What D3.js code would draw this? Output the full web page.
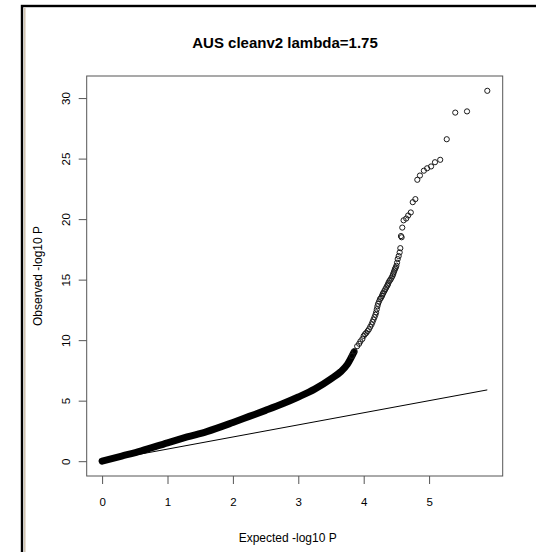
<!DOCTYPE html>
<html>

<head>
    <meta charset="utf-8">
</head>
<style>
    body { margin: 0; background: #fff; }
    svg text { font-family: "Liberation Sans", Arial, sans-serif; fill: #000; }
</style>

<body>
    <svg width="536" height="552"></svg>
    <script src="https://d3js.org/d3.v7.min.js"></script>
    <script>
        // dense part of the QQ curve (expected, observed -log10 P)
        var bandX = [0, 0.3, 0.6, 1.0, 1.3, 1.6, 2.0, 2.25, 2.5, 2.75, 3.0, 3.25, 3.5, 3.65, 3.75, 3.85];
        var bandY = [0, 0.42, 0.85, 1.52, 2.0, 2.45, 3.2, 3.7, 4.2, 4.72, 5.3, 5.95, 6.8, 7.4, 8.0, 9.0];

        // sparse upper tail, drawn as separate points
        var tailX = [3.82, 3.86, 3.90, 3.93, 3.95, 3.98, 4.00, 4.02, 4.04, 4.06, 4.08, 4.10, 4.12, 4.135, 4.15, 4.165, 4.18, 4.19, 4.20, 4.21, 4.22, 4.235, 4.25, 4.265, 4.28, 4.29, 4.30, 4.315, 4.33, 4.345, 4.36, 4.37, 4.38, 4.395, 4.41, 4.425, 4.44, 4.45, 4.46, 4.47, 4.48, 4.49, 4.50, 4.51, 4.52, 4.535, 4.55, 4.56, 4.57, 4.58, 4.59, 4.61, 4.65, 4.68, 4.72, 4.75, 4.79, 4.82, 4.86, 4.92, 4.97, 5.03, 5.09, 5.17, 5.27, 5.40, 5.58, 5.89];
        var tailY = [8.7, 9.1, 9.5, 9.7, 9.9, 10.1, 10.35, 10.5, 10.6, 10.75, 10.9, 11.1, 11.3, 11.5, 11.7, 11.9, 12.1, 12.3, 12.55, 12.8, 13.0, 13.2, 13.4, 13.5, 13.65, 13.8, 13.9, 14.05, 14.2, 14.35, 14.5, 14.6, 14.75, 14.9, 15.0, 15.15, 15.3, 15.45, 15.6, 15.75, 15.9, 16.0, 16.15, 16.4, 16.7, 16.95, 17.25, 17.6, 18.6, 18.5, 19.3, 19.9, 20.05, 20.3, 20.55, 21.4, 21.65, 23.25, 23.6, 24.0, 24.2, 24.35, 24.7, 24.9, 26.6, 28.8, 28.9, 30.6];

        var xTicks = [0, 1, 2, 3, 4, 5];
        var yTicks = [0, 5, 10, 15, 20, 25, 30];

        var title = "AUS cleanv2 lambda=1.75",
            xLabel = "Expected -log10 P",
            yLabel = "Observed -log10 P";

        var svg = d3.select("svg");

        // outer window frame
        svg.append("rect").attr("x", 22).attr("y", 6).attr("width", 540).attr("height", 560)
            .attr("fill", "none").attr("stroke", "#000").attr("stroke-width", 2.4);
        svg.append("line").attr("x1", 24.8).attr("x2", 24.8).attr("y1", 8).attr("y2", 552)
            .attr("stroke", "#cfc3b0").attr("stroke-width", 1.5);

        var plotL = 86.7, plotR = 502.7, plotT = 76, plotB = 476;

        var allX = bandX.concat(tailX), allY = bandY.concat(tailY);
        var xMax = d3.max(allX), yMax = d3.max(allY);

        // R style 4% padding on each side
        var x = d3.scaleLinear()
            .domain([0 - 0.04 * xMax, xMax * 1.04])
            .range([plotL, plotR]);
        var y = d3.scaleLinear()
            .domain([0 - 0.04 * yMax, yMax * 1.04])
            .range([plotB, plotT]);

        // box
        svg.append("rect")
            .attr("x", plotL).attr("y", plotT)
            .attr("width", plotR - plotL).attr("height", plotB - plotT)
            .attr("fill", "none").attr("stroke", "#555").attr("stroke-width", 1);

        // x axis
        var gx = svg.append("g").attr("transform", "translate(0," + plotB + ")")
            .call(d3.axisBottom(x).tickValues(xTicks).tickSize(8).tickPadding(14).tickFormat(d3.format("d")));
        gx.select(".domain").remove();
        gx.selectAll("line").attr("stroke", "#555");
        gx.selectAll("text").attr("font-size", 11.5).attr("font-family", "Liberation Sans, Arial, sans-serif");

        // y axis, labels rotated like R
        var gy = svg.append("g").attr("transform", "translate(" + plotL + ",0)")
            .call(d3.axisLeft(y).tickValues(yTicks).tickSize(8).tickFormat(d3.format("d")));
        gy.select(".domain").remove();
        gy.selectAll("line").attr("stroke", "#555");
        gy.selectAll("text")
            .attr("font-size", 11.5).attr("font-family", "Liberation Sans, Arial, sans-serif")
            .attr("x", null)
            .attr("text-anchor", "middle")
            .attr("transform", "translate(-21,0) rotate(-90)")
            .attr("dy", "0.35em");

        // expected line
        var line = d3.line()
            .x(function (d) { return x(d); })
            .y(function (d) { return y(d); });
        svg.append("path")
            .datum([0, xMax])
            .attr("d", line)
            .attr("fill", "none").attr("stroke", "#000").attr("stroke-width", 1);

        // dense band of overlapping points
        var bandLine = d3.line()
            .x(function (d, i) { return x(bandX[i]); })
            .y(function (d, i) { return y(bandY[i]); })
            .curve(d3.curveMonotoneX);
        svg.append("path")
            .datum(bandX)
            .attr("d", bandLine)
            .attr("fill", "none").attr("stroke", "#000")
            .attr("stroke-width", 7).attr("stroke-linecap", "round");

        svg.append("g").selectAll("circle")
            .data(tailX)
            .enter().append("circle")
            .attr("cx", function (d) { return x(d); })
            .attr("cy", function (d, i) { return y(tailY[i]); })
            .attr("r", 2.6)
            .attr("fill", "none").attr("stroke", "#1a1a1a").attr("stroke-width", 1);

        // titles
        svg.append("text")
            .attr("x", 285).attr("y", 48)
            .attr("text-anchor", "middle")
            .attr("font-size", 15).attr("font-weight", "bold")
            .text(title);
        svg.append("text")
            .attr("x", (plotL + plotR) / 2 - 7).attr("y", 542)
            .attr("text-anchor", "middle").attr("font-size", 12)
            .text(xLabel);
        svg.append("text")
            .attr("transform", "translate(42," + (plotT + plotB) / 2 + ") rotate(-90)")
            .attr("text-anchor", "middle").attr("font-size", 12)
            .text(yLabel);
    </script>
</body>

</html>
